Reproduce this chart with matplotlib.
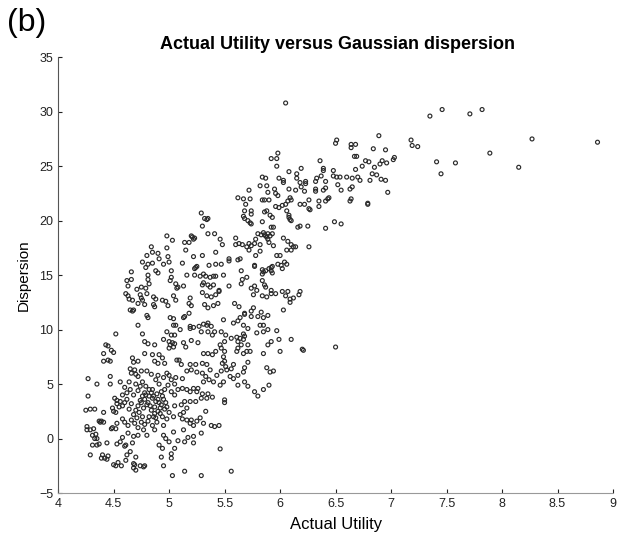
import numpy as np
import matplotlib
matplotlib.use("Agg")
import matplotlib.pyplot as plt

plt.rcParams['font.family'] = ['Liberation Sans', 'DejaVu Sans']

# (actual utility, dispersion), grouped by region
far_right = [(7.46, 30.2), (7.35, 29.6), (7.71, 29.8), (7.82, 30.2), (7.18, 27.4), (7.19, 26.9),
             (7.24, 26.8), (7.41, 25.4), (7.58, 25.3), (7.45, 24.3), (7.89, 26.2), (8.27, 27.5),
             (8.15, 24.9), (8.86, 27.2), (6.05, 30.8)]

upper_band = [(6.89, 27.8), (6.51, 27.4), (6.50, 27.1), (6.64, 27.0), (6.68, 27.0), (6.64, 26.7),
              (6.84, 26.6), (6.95, 26.5), (5.98, 26.2), (5.92, 25.7), (5.97, 25.7), (5.97, 25.0),
              (6.67, 25.9), (6.69, 25.9), (7.03, 25.8), (7.02, 25.6), (6.77, 25.5), (6.80, 25.4),
              (6.92, 25.5), (6.96, 25.3), (6.90, 25.2), (6.85, 24.9), (6.74, 25.0), (6.36, 25.5),
              (6.39, 24.8), (6.39, 24.6), (6.19, 24.8), (6.08, 24.5), (6.15, 24.3), (6.15, 23.9),
              (6.48, 24.6), (6.68, 24.7), (6.60, 24.0), (6.65, 23.9), (6.70, 24.0), (6.51, 24.0),
              (6.54, 24.0), (6.48, 24.1), (6.83, 24.3), (6.87, 24.2), (6.91, 23.8), (6.95, 23.7),
              (6.81, 23.7), (6.72, 23.7), (6.37, 24.1), (6.33, 23.9), (6.41, 23.6), (6.32, 23.6),
              (6.23, 23.6), (6.23, 23.4), (6.03, 23.7), (6.03, 23.5), (5.99, 23.9), (5.87, 23.9),
              (5.84, 24.0), (6.18, 23.5), (6.19, 23.1), (6.52, 23.3), (6.55, 22.8), (6.63, 22.9),
              (6.65, 23.1), (6.32, 22.9), (6.32, 22.7), (6.39, 22.8), (6.41, 23.0), (6.44, 22.1),
              (6.43, 22.0), (6.64, 22.0), (6.97, 22.6), (6.79, 21.6), (6.22, 22.7), (6.26, 21.9),
              (6.26, 21.1), (6.35, 21.3), (6.18, 21.5), (6.22, 21.5), (6.07, 21.8), (6.10, 21.9),
              (6.09, 22.1), (5.98, 22.3), (6.08, 22.9), (6.14, 22.8), (5.95, 22.9), (5.96, 22.5),
              (5.88, 23.2), (5.89, 22.6), (5.82, 23.2), (5.84, 21.9), (5.90, 21.9), (5.96, 21.3),
              (5.99, 21.2), (6.02, 21.4), (5.88, 20.9), (6.05, 21.5), (6.06, 20.9), (6.08, 20.5),
              (6.09, 20.1), (6.27, 21.0), (6.35, 21.8), (6.41, 21.8), (6.63, 21.8), (6.79, 21.5)]

mid_right = [(6.16, 19.4), (6.25, 19.5), (6.49, 19.9), (6.55, 19.7), (6.41, 19.3), (6.26, 17.6),
             (6.03, 18.4), (5.93, 20.3), (5.91, 20.5), (5.85, 18.9), (5.88, 18.5), (5.91, 18.6),
             (5.89, 18.3), (5.93, 18.8), (5.86, 18.7), (5.82, 17.8), (5.77, 17.9), (5.90, 18.0),
             (5.94, 17.7), (5.97, 16.8), (6.06, 17.3), (6.10, 17.8), (6.12, 17.6), (5.77, 15.9),
             (5.85, 15.3), (5.84, 15.5), (5.92, 15.4), (5.93, 15.8), (5.92, 15.7), (6.01, 15.9),
             (6.02, 15.6), (6.06, 16.0), (5.77, 14.0), (5.86, 14.1), (5.87, 13.9), (5.92, 13.3),
             (5.84, 13.1), (6.05, 13.1), (6.12, 12.9), (6.17, 13.2), (6.09, 12.8), (6.18, 13.5),
             (6.18, 19.5), (5.72, 22.8), (5.62, 22.1), (5.67, 22.0), (5.73, 22.0), (5.69, 21.5),
             (5.86, 21.9), (5.68, 20.9), (5.74, 20.6), (5.74, 20.9), (5.67, 20.4), (5.68, 20.2),
             (5.71, 20.0), (5.73, 19.8), (5.74, 19.7), (5.86, 20.8), (6.08, 20.3), (6.10, 20.0),
             (5.84, 19.9), (5.92, 19.4), (5.94, 19.4), (5.80, 18.8), (5.83, 18.7), (5.87, 18.6),
             (5.89, 18.8), (5.78, 18.3), (5.72, 17.9), (5.70, 17.6), (5.74, 17.7), (5.60, 18.4),
             (5.60, 17.8), (5.63, 17.9), (5.66, 17.8), (5.54, 16.5), (5.54, 16.3), (5.62, 16.4),
             (5.64, 16.5), (5.72, 17.3), (5.78, 16.8), (5.82, 17.2), (6.00, 16.8), (6.07, 18.1),
             (6.10, 17.3), (6.14, 17.6), (5.77, 15.8), (5.65, 15.4), (5.66, 14.6), (5.65, 14.2),
             (5.70, 14.8), (5.74, 13.8), (5.76, 13.2), (5.79, 13.6), (5.84, 15.1), (5.87, 15.4),
             (5.90, 15.6), (5.93, 15.2), (5.98, 16.0), (6.04, 16.2), (5.84, 14.5), (5.92, 13.6),
             (5.88, 13.0), (5.96, 13.3), (6.02, 13.5), (6.07, 13.5), (5.54, 14.0), (5.47, 16.0),
             (5.42, 16.0), (5.36, 15.9), (5.42, 14.9), (5.49, 15.0)]

mid_left = [(5.29, 20.7), (5.32, 20.2), (5.35, 20.2), (5.34, 20.1), (5.30, 19.5), (5.21, 18.5),
            (5.22, 18.3), (5.20, 18.6), (5.23, 18.4), (5.14, 18.0), (5.18, 18.0), (5.15, 17.3),
            (5.35, 18.8), (5.41, 18.8), (5.46, 18.3), (5.48, 17.8), (5.42, 17.1), (5.30, 16.8),
            (5.22, 16.7), (5.12, 16.1), (5.24, 15.7), (5.23, 15.6), (5.25, 15.8), (5.16, 15.0),
            (5.23, 15.0), (5.28, 14.9), (5.31, 15.1), (5.33, 14.9), (5.37, 14.8), (5.40, 14.9),
            (5.30, 14.1), (5.31, 14.3), (5.35, 14.1), (5.37, 13.9), (5.40, 14.1), (5.45, 13.6),
            (5.30, 13.4), (5.34, 13.1), (5.38, 13.0), (5.42, 13.2), (5.45, 13.5), (5.19, 12.9),
            (5.13, 14.0), (4.98, 18.6), (5.03, 18.2), (4.84, 17.6), (4.85, 17.1), (4.80, 16.8),
            (4.76, 16.2), (4.90, 17.0), (4.91, 16.5), (4.98, 17.5), (4.99, 16.7), (5.00, 16.2),
            (4.85, 16.1), (4.81, 16.0), (4.79, 15.7), (4.88, 15.4), (4.90, 15.2), (4.95, 16.0),
            (5.02, 15.4), (5.02, 14.8), (5.01, 14.5), (4.66, 15.3), (4.62, 14.5), (4.66, 14.6),
            (4.63, 14.0), (4.71, 13.7), (4.75, 13.9), (4.79, 13.8), (4.81, 15.0), (4.81, 14.6),
            (4.82, 14.2), (5.06, 14.2), (5.08, 13.9), (5.07, 13.8), (4.61, 13.3), (4.63, 13.1),
            (4.64, 12.8), (4.67, 12.7), (4.74, 13.2), (4.75, 12.9), (4.76, 12.7), (4.80, 13.3),
            (4.86, 13.0), (4.88, 12.8), (4.94, 12.7), (4.97, 12.6), (5.04, 13.1), (5.06, 12.7)]

middle = [(4.65, 11.8), (4.68, 11.8), (4.72, 10.4), (4.76, 9.6), (4.72, 12.4), (4.67, 11.7),
          (4.52, 9.6), (4.78, 12.3), (4.86, 12.3), (4.87, 12.1), (4.99, 12.2), (5.18, 12.4),
          (5.20, 12.2), (5.32, 12.3), (5.35, 12.0), (5.40, 12.2), (5.44, 12.4), (4.80, 11.3),
          (4.81, 11.1), (5.01, 11.1), (5.04, 11.0), (5.13, 11.1), (5.14, 11.2), (5.18, 11.5),
          (5.06, 10.4), (5.10, 10.0), (5.05, 9.5), (5.02, 9.5), (5.04, 10.4), (5.19, 10.3),
          (5.19, 10.1), (5.22, 10.2), (5.27, 10.3), (5.31, 10.5), (5.34, 10.4), (5.35, 10.6),
          (5.38, 10.3), (5.41, 9.8), (5.35, 9.8), (5.29, 9.8), (5.39, 9.5), (4.98, 9.8),
          (4.95, 9.1), (5.00, 8.9), (5.03, 8.8), (5.04, 8.4), (5.00, 8.3), (5.01, 8.6),
          (5.05, 8.7), (4.78, 8.9), (4.81, 8.7), (4.87, 8.6), (5.13, 8.8), (5.15, 8.4),
          (5.20, 9.0), (5.26, 8.8), (5.31, 7.8), (5.35, 7.8), (5.39, 7.7), (5.42, 8.0),
          (5.46, 8.6), (5.59, 12.4), (5.63, 12.1), (5.68, 11.5), (5.74, 11.7), (5.76, 12.0),
          (5.83, 11.6), (5.89, 11.3), (5.85, 11.1), (5.80, 11.2), (5.74, 11.2), (5.68, 11.4),
          (5.64, 11.1), (5.62, 10.8), (5.49, 10.9), (6.09, 12.5), (6.03, 11.8), (5.58, 10.6),
          (5.67, 10.4), (5.71, 10.1), (5.82, 10.4), (5.85, 10.4), (5.89, 10.0), (5.85, 9.8),
          (5.79, 9.7), (5.67, 9.6), (5.61, 9.3), (5.56, 9.2), (5.51, 9.5), (5.47, 9.8),
          (5.97, 9.9), (5.99, 9.1), (6.10, 9.1), (6.20, 8.2), (6.00, 8.0), (5.92, 8.9),
          (5.89, 8.6), (5.85, 7.8), (6.21, 8.1), (6.50, 8.4), (5.50, 8.9), (5.62, 8.9),
          (5.64, 9.2), (5.67, 9.1), (5.68, 9.4), (5.65, 8.6), (5.62, 8.3), (5.61, 8.0),
          (5.67, 7.8), (5.70, 8.0), (5.73, 8.0), (5.71, 8.6), (4.43, 8.6), (4.48, 8.1),
          (4.41, 7.8), (4.45, 7.2), (4.47, 7.1), (4.41, 7.1), (4.45, 8.5), (4.50, 7.9)]

core_upper = [(5.47, 8.3), (5.50, 8.0), (5.49, 7.5), (5.50, 7.1), (5.48, 6.9), (5.51, 6.6),
              (5.52, 6.3), (5.58, 6.8), (5.56, 6.4), (5.47, 6.2), (5.71, 7.0), (5.68, 6.5),
              (5.67, 6.1), (5.62, 5.8), (5.58, 5.5), (5.55, 5.7), (5.49, 5.2), (5.46, 4.9),
              (5.62, 4.9), (5.68, 5.2), (5.71, 4.8), (5.88, 6.5), (5.91, 6.1), (5.94, 6.2),
              (5.90, 4.9), (5.77, 4.3), (5.85, 4.5), (5.80, 3.9), (5.50, 3.55), (5.50, 3.3),
              (4.67, 7.4), (4.68, 7.0), (4.72, 7.1), (4.65, 6.4), (4.66, 6.0), (4.69, 6.3),
              (4.70, 5.9), (4.72, 5.7), (4.47, 5.7), (4.56, 5.2), (4.47, 5.0), (4.35, 5.0),
              (4.27, 5.5), (4.27, 3.9), (4.78, 7.8), (4.85, 7.7), (4.91, 7.7), (4.94, 7.4),
              (4.96, 6.9), (4.87, 7.1), (4.90, 6.9), (5.07, 7.2), (5.09, 7.2), (5.11, 6.8),
              (5.19, 6.8), (5.24, 6.8), (5.30, 6.9), (5.34, 6.8), (5.37, 6.3), (5.30, 6.0),
              (5.33, 5.7), (5.36, 5.4), (5.40, 5.2), (5.43, 5.8), (5.31, 5.2), (5.26, 4.6),
              (5.25, 6.1), (5.20, 6.3), (5.16, 6.2), (5.12, 5.5), (5.06, 5.6), (5.05, 5.0),
              (5.02, 5.4), (5.00, 5.8), (4.98, 6.0), (4.95, 5.6), (4.90, 5.8), (4.88, 5.4),
              (4.84, 5.9), (4.80, 6.2), (4.75, 6.2), (4.76, 5.2), (4.79, 4.8), (4.82, 4.5),
              (4.85, 4.5), (4.91, 5.0), (4.93, 4.3), (4.78, 4.2), (4.82, 3.9), (4.85, 3.7),
              (4.88, 3.4), (4.90, 3.6), (4.93, 3.1), (4.95, 3.6), (4.80, 3.1), (4.84, 2.6),
              (4.87, 2.3), (4.92, 2.8), (4.77, 2.8), (4.76, 2.0), (4.82, 2.0), (4.88, 1.9),
              (4.92, 2.3), (4.99, 4.9), (5.02, 4.3), (5.05, 4.0), (5.08, 4.5), (5.12, 4.6),
              (5.16, 4.5), (5.19, 4.3), (5.22, 4.6), (5.25, 4.3), (5.30, 4.1), (5.35, 4.1),
              (5.39, 3.8), (5.34, 3.7), (5.29, 3.7), (5.24, 3.4), (5.19, 3.4), (5.14, 3.4),
              (5.11, 3.1), (5.16, 2.8), (5.10, 2.2), (5.12, 1.8), (5.04, 2.0), (5.05, 3.0),
              (5.13, 2.4), (5.16, 1.7), (5.19, 1.4), (5.25, 1.6), (5.31, 1.4), (5.41, 1.1),
              (5.45, 1.2)]

core_lower = [(4.51, 3.7), (4.53, 3.5), (4.56, 3.4), (4.53, 3.2), (4.55, 2.9), (4.49, 2.8),
              (4.50, 2.5), (4.58, 3.0), (4.60, 3.3), (4.62, 3.6), (4.64, 2.7), (4.66, 3.2),
              (4.68, 2.2), (4.70, 2.6), (4.72, 3.0), (4.74, 3.5), (4.62, 4.2), (4.65, 4.5),
              (4.60, 4.7), (4.58, 4.0), (4.68, 4.0), (4.72, 4.4), (4.74, 4.8), (4.70, 5.0),
              (4.64, 5.2), (4.25, 2.6), (4.29, 2.7), (4.33, 2.7), (4.41, 2.4), (4.37, 1.6),
              (4.39, 1.6), (4.52, 2.4), (4.41, 1.5), (4.38, 1.5), (4.26, 1.1), (4.26, 0.8),
              (4.29, 0.8), (4.32, 0.9), (4.31, 0.3), (4.34, 0.4), (4.33, 0.0), (4.35, 0.0),
              (4.49, 1.0), (4.48, 0.9), (4.53, 1.4), (4.52, 0.9), (4.44, -0.4), (4.31, -0.6),
              (4.37, -0.5), (4.35, -0.6), (4.53, -0.5), (4.60, -0.7), (4.61, -0.6), (4.67, -0.4),
              (4.65, -1.2), (4.29, -1.5), (4.40, -1.5), (4.42, -1.8), (4.39, -1.8), (4.44, -1.9),
              (4.45, -1.6), (4.50, -2.4), (4.52, -2.5), (4.54, -2.2), (4.57, -2.5), (4.62, -1.5),
              (4.68, -2.3), (4.68, -2.7), (4.70, -1.7), (4.61, -2.0), (4.69, -2.4), (4.70, -2.9),
              (4.74, -2.5), (4.95, -2.5), (5.03, -3.4), (5.14, -3.0), (5.29, -3.4), (5.02, -1.4),
              (5.02, -1.8), (4.93, -1.7), (4.78, -2.5), (4.77, -2.6), (4.77, 0.8), (4.80, 0.3),
              (4.87, 0.8), (4.95, 0.3), (4.97, 0.0), (5.00, -0.3), (4.91, -0.6), (4.94, -0.9),
              (5.13, 0.8), (5.22, 0.2), (5.22, -0.4), (5.20, 1.7), (5.22, 1.2), (5.28, 1.9),
              (5.33, 2.5), (5.38, 1.2), (5.04, 0.6), (5.08, -0.2), (5.05, -0.9), (5.14, -0.3),
              (5.17, 0.1), (5.29, 0.5), (5.46, -0.95), (5.56, -3.0), (4.58, 1.8), (4.60, 1.5),
              (4.63, 1.2), (4.66, 1.7), (4.69, 1.4), (4.72, 1.0), (4.75, 1.5), (4.78, 1.3),
              (4.81, 1.6), (4.85, 1.2), (4.89, 1.5), (4.95, 1.2), (4.98, 1.8), (5.00, 2.4),
              (4.96, 2.7), (4.63, 0.5), (4.68, 0.2), (4.72, 0.3), (4.58, 0.1), (4.56, -0.3),
              (4.76, 3.9), (4.78, 3.6), (4.79, 4.0), (4.81, 3.3), (4.83, 3.0), (4.84, 4.2),
              (4.86, 3.9), (4.87, 2.9), (4.89, 4.1), (4.90, 2.5), (4.91, 3.3), (4.94, 3.9),
              (4.96, 4.5), (4.97, 3.3), (4.98, 2.9), (4.75, 3.3), (4.73, 2.4), (4.71, 1.9),
              (4.86, 2.0), (4.94, 2.0)]

x_ticks = [4, 4.5, 5, 5.5, 6, 6.5, 7, 7.5, 8, 8.5, 9]
y_ticks = [-5, 0, 5, 10, 15, 20, 25, 30, 35]

pts = np.array(far_right + upper_band + mid_right + mid_left + middle + core_upper + core_lower)

fig = plt.figure(figsize=(6.18, 5.4), dpi=100)
ax = fig.add_axes([0.094, 0.087, 0.898, 0.807])

ax.scatter(pts[:, 0], pts[:, 1], s=8, facecolors='none', edgecolors='#2a2a2a', linewidths=0.85)

ax.set_xlim(4, 9)
ax.set_ylim(-5, 35)
ax.set_xticks(x_ticks)
ax.set_xticklabels([f'{t:g}' for t in x_ticks])
ax.set_yticks(y_ticks)
ax.tick_params(direction='in', length=3, labelsize=9, colors='#222222')
ax.spines['top'].set_visible(False)
ax.spines['right'].set_visible(False)
ax.spines['left'].set_color('#555555')
ax.spines['bottom'].set_color('#999999')
ax.spines['bottom'].set_linestyle((0, (1, 1)))

ax.set_xlabel('Actual Utility', fontsize=12, labelpad=5)
ax.set_ylabel('Dispersion', fontsize=11, labelpad=6)
fig.text(0.546, 0.918, 'Actual Utility versus Gaussian dispersion', ha='center', va='center',
         fontsize=13, fontweight='bold')
fig.text(0.012, 0.958, '(b)', ha='left', va='center', fontsize=23)

fig.savefig('out.png', dpi=100)
